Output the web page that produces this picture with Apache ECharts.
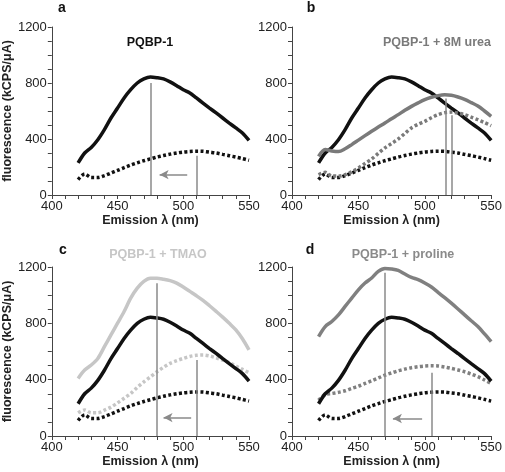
<!DOCTYPE html>
<html><head><meta charset="utf-8">
<script src="https://cdn.jsdelivr.net/npm/echarts@6/dist/echarts.min.js"></script>
<style>html,body{margin:0;padding:0;background:#fff}#c{width:505px;height:472px}</style>
</head><body><div id="c"></div>
<script>
// Emission wavelengths (nm)
const wavelengths = [420,425,430,435,440,445,450,455,460,465,470,475,480,485,490,495,500,505,510,515,520,525,530,535,540,545,550];
// PQBP-1 alone (solid = intrinsic, dotted = second trace)
const pqbpSolid  = [229,300,340,395,467,550,621,693,752,800,829,843,838,829,808,781,752,729,693,657,621,586,550,514,479,443,390];
const pqbpDotted = [110,150,125,125,138,157,176,195,214,230,245,258,271,282,292,300,307,311,313,312,306,300,290,281,271,260,248];
// + 8M urea
const ureaSolid  = [276,325,315,310,330,360,392,424,455,485,514,545,574,605,633,658,681,698,710,716,712,700,683,660,635,600,562];
const ureaDotted = [145,162,135,135,145,165,193,225,257,297,336,368,400,440,479,505,526,552,574,588,592,585,574,556,538,517,495];
// + TMAO
const tmaoSolid  = [409,468,504,551,634,718,801,884,979,1050,1098,1120,1120,1113,1103,1086,1058,1027,996,963,925,885,844,800,753,690,611];
const tmaoDotted = [164,185,165,165,183,205,235,268,302,345,385,420,456,488,516,535,551,565,573,575,568,555,539,520,497,473,449];
// + proline
const proSolid   = [706,777,813,860,920,979,1038,1086,1122,1169,1190,1186,1176,1150,1126,1110,1086,1058,1020,982,943,902,860,818,777,725,670];
const proDotted  = [254,295,302,310,321,338,354,373,392,412,432,448,463,475,485,492,497,499,497,490,480,469,456,440,421,398,373];
// Peak markers [wavelength, height] and shift arrows [from, to, level]
const peaksA = [[475,800],[510,280]];
const peaksB = [[516,690],[520,570]];
const peaksC = [[480,1085],[510,540]];
const peaksD = [[470,1160],[505,450]];
const arrowA = [503,482,145];
const arrowC = [506,485,131];
const arrowD = [498,476,124];
const panelLetters = ['a','b','c','d'];
const panelTitles = ['PQBP-1','PQBP-1 + 8M urea','PQBP-1 + TMAO','PQBP-1 + proline'];
const xTicks = [400,450,500,550];
const yTicks = [0,400,800,1200];

const FONT = '"Liberation Sans", Arial, sans-serif';
const BLACK = '#111111', GRAY = '#808080', LIGHT = '#c6c6c6', MARK = '#8a8a8a';
const titleColors = ['#111111','#7a7a7a','#c6c6c6','#8a8a8a'];

const grids = [
  {left:45, top:27, width:204, height:168},
  {left:292, top:27, width:203, height:168},
  {left:45, top:267, width:204, height:169},
  {left:292, top:267, width:204, height:169}
];
const titlePos = [[150,43],[437,43],[158,255],[403,255]];
const letterPos = [[62,8],[311,8],[63,250],[310,250]];

const pair = a => wavelengths.map((w,i)=>[w,a[i]]);

const xAxes = grids.map((g,i)=>({
  type:'value', gridIndex:i, min:xTicks[0], max:xTicks[xTicks.length-1], interval:50,
  name:'Emission λ (nm)', nameLocation:'middle', nameGap:16,
  nameTextStyle:{fontFamily:FONT, fontWeight:'bold', fontSize:12.5, color:'#222'},
  axisLine:{lineStyle:{color:'#444', width:1}},
  axisTick:{length:4, lineStyle:{color:'#444'}},
  minorTick:{show:true, splitNumber:5, length:4, lineStyle:{color:'#444'}},
  axisLabel:{fontFamily:FONT, fontSize:13, color:'#222', margin:5, formatter:v=>String(v)},
  splitLine:{show:false}
}));
const yAxes = grids.map((g,i)=>({
  type:'value', gridIndex:i, min:yTicks[0], max:yTicks[yTicks.length-1], interval:400,
  name: (i%2===0) ? 'fluorescence (kCPS/μA)' : '', nameLocation:'middle', nameGap:29,
  nameTextStyle:{fontFamily:FONT, fontWeight:'bold', fontSize:12.5, color:'#222'},
  axisLine:{show:true, lineStyle:{color:'#444', width:1}},
  axisTick:{show:true, length:4, lineStyle:{color:'#444'}},
  minorTick:{show:true, splitNumber:4, length:4, lineStyle:{color:'#444'}},
  axisLabel:{fontFamily:FONT, fontSize:13, color:'#222', margin:5, formatter:v=>String(v)},
  splitLine:{show:false}
}));

function solid(i, data, color){
  return {type:'line', xAxisIndex:i, yAxisIndex:i, data:pair(data), showSymbol:false, symbol:'none', smooth:0.3,
    lineStyle:{color, width:3.5}, z:3, silent:true};
}
function dotted(i, data, color){
  return {type:'line', xAxisIndex:i, yAxisIndex:i, data:pair(data), showSymbol:false, symbol:'none', smooth:0.3,
    lineStyle:{color, width:3.5, type:[3,2.4], cap:'butt'}, z:3, silent:true};
}
function marks(i, peaks, arrow){
  const data = peaks.map(p=>[{coord:[p[0],0], symbol:'none'},{coord:[p[0],p[1]], symbol:'none'}]);
  if(arrow){
    data.push([{coord:[arrow[0],arrow[2]], symbol:'none'},{coord:[arrow[1],arrow[2]], symbol:'arrow', symbolSize:[7,9]}]);
  }
  return {type:'line', xAxisIndex:i, yAxisIndex:i, data:[], silent:true, z:2,
    markLine:{silent:true, symbol:['none','none'], label:{show:false}, animation:false,
      lineStyle:{color:MARK, width:1.5, type:'solid'}, data}};
}

const series = [
  solid(0,pqbpSolid,BLACK), dotted(0,pqbpDotted,BLACK), marks(0,peaksA,arrowA),
  solid(1,pqbpSolid,BLACK), dotted(1,pqbpDotted,BLACK), solid(1,ureaSolid,'#7a7a7a'), dotted(1,ureaDotted,'#7a7a7a'), marks(1,peaksB,null),
  solid(2,tmaoSolid,LIGHT), dotted(2,tmaoDotted,LIGHT), solid(2,pqbpSolid,BLACK), dotted(2,pqbpDotted,BLACK), marks(2,peaksC,arrowC),
  solid(3,proSolid,GRAY), dotted(3,proDotted,GRAY), solid(3,pqbpSolid,BLACK), dotted(3,pqbpDotted,BLACK), marks(3,peaksD,arrowD)
];

const graphic = [];
panelLetters.forEach((l,i)=>graphic.push({type:'text', x:letterPos[i][0], y:letterPos[i][1],
  style:{text:l, font:'bold 14px '+FONT, fill:'#111', textAlign:'center', textVerticalAlign:'middle'}}));
panelTitles.forEach((t,i)=>graphic.push({type:'text', x:titlePos[i][0], y:titlePos[i][1],
  style:{text:t, font:'bold 12.5px '+FONT, fill:titleColors[i], textAlign:'center', textVerticalAlign:'middle'}}));

const chart = echarts.init(document.getElementById('c'), null, {renderer:'canvas'});
chart.setOption({animation:false, backgroundColor:'#fff', grid:grids, xAxis:xAxes, yAxis:yAxes, series, graphic});
</script></body></html>
